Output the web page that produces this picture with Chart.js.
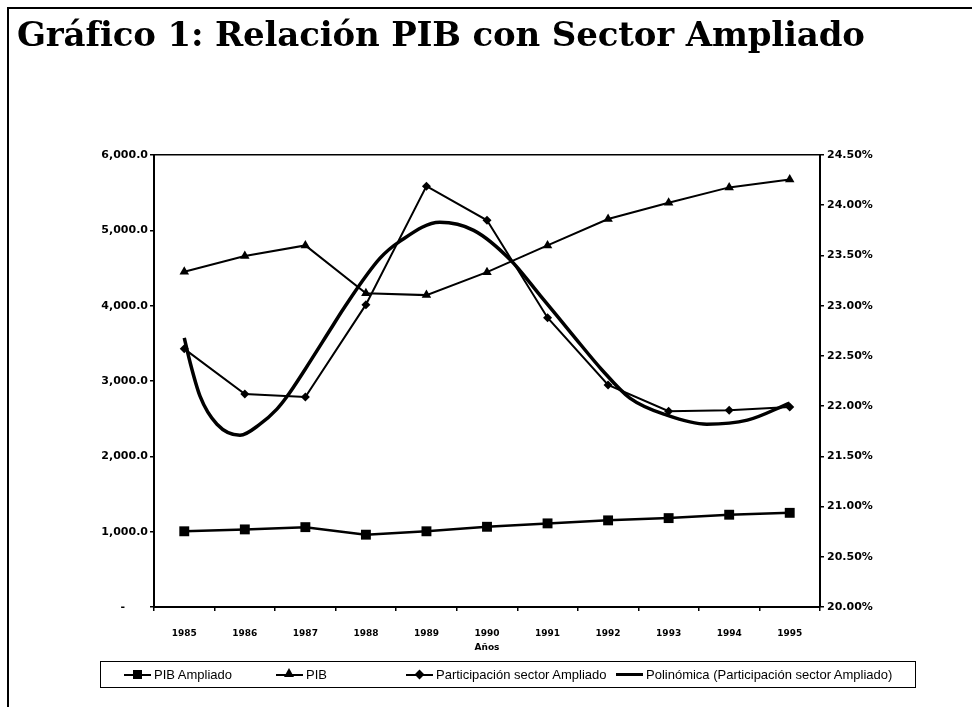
<!DOCTYPE html>
<html>
<head>
<meta charset="utf-8">
<script src="https://cdn.jsdelivr.net/npm/chart.js@4.4.0/dist/chart.umd.min.js"></script>
<style>
body { margin: 0; background: #fff; }
#page { position: relative; width: 972px; height: 707px; overflow: hidden; background: #fff; }
#frame { position: absolute; left: 7px; top: 7px; width: 980px; height: 720px; border-left: 2px solid #000; border-top: 2px solid #000; }
#title { position: absolute; left: 17px; top: 14px; font: bold 34px "DejaVu Serif"; color: #000; white-space: nowrap; }
#chart { position: absolute; left: 0; top: 0; }
#legend { position: absolute; left: 100px; top: 661px; width: 814px; height: 25px; border: 1px solid #000; font: 13px "Liberation Sans"; color: #000; }
.item { position: absolute; top: 0; height: 25px; line-height: 25px; white-space: nowrap; }
.mk { position: absolute; top: 12px; width: 27px; height: 2px; background: #000; }
.mk.thick { top: 11px; height: 3px; }
.sq, .tri, .dia { position: absolute; }
.sq { left: 9px; top: -4px; width: 9px; height: 9px; background: #000; }
.tri { left: 8px; top: -6px; width: 0; height: 0; border-left: 5px solid transparent; border-right: 5px solid transparent; border-bottom: 9px solid #000; }
.dia { left: 10px; top: -3px; width: 7px; height: 7px; background: #000; transform: rotate(45deg); }
.txt { position: absolute; left: 30px; top: 0; }
</style>
</head>
<body>
<div id="page">
  <div id="frame"></div>
  <canvas id="chart" width="972" height="707"></canvas>
  <div id="title">Gráfico 1: Relación PIB con Sector Ampliado</div>
  <div id="legend">
    <div class="item" style="left:23px"><div class="mk"><div class="sq"></div></div><span class="txt">PIB Ampliado</span></div>
    <div class="item" style="left:175px"><div class="mk"><div class="tri"></div></div><span class="txt">PIB</span></div>
    <div class="item" style="left:305px"><div class="mk"><div class="dia"></div></div><span class="txt">Participación sector Ampliado</span></div>
    <div class="item" style="left:515px"><div class="mk thick"></div><span class="txt">Polinómica (Participación sector Ampliado)</span></div>
  </div>
</div>
<script>
const years = ['1985', '1986', '1987', '1988', '1989', '1990', '1991', '1992', '1993', '1994', '1995']
const pibAmpliado = [1005, 1030, 1060, 960, 1005, 1065, 1110, 1150, 1180, 1225, 1250]
const pib = [4450, 4660, 4800, 4165, 4140, 4445, 4800, 5150, 5365, 5570, 5675]
const participacion = [22.57, 22.12, 22.09, 23.01, 24.19, 23.85, 22.88, 22.21, 21.95, 21.96, 21.99]

// trend curve at several positions along the years
const trendYears = [1985, 1985.09, 1985.26, 1985.54, 1985.92, 1986.25, 1986.53, 1986.69, 1987, 1987.41, 1987.63,
    1988.23, 1988.56, 1989.22, 1989.78, 1990.38, 1990.88, 1991.4, 1991.9, 1992.36, 1992.97, 1993.63, 1994.3, 1995]
const trendValues = [22.68, 22.45, 22.10, 21.82, 21.71, 21.82, 21.97, 22.09, 22.37, 22.76, 22.97,
    23.47, 23.64, 23.83, 23.75, 23.46, 23.10, 22.72, 22.36, 22.08, 21.91, 21.82, 21.86, 22.03]

const leftMin = 0, leftMax = 6000, leftStep = 1000
const rightMin = 20, rightMax = 24.5, rightStep = 0.5

// stretch the title to the width it has in the picture
const title = document.getElementById('title')
const w = title.getBoundingClientRect().width
title.style.letterSpacing = ((845 - w) / title.textContent.length) + 'px'

const tickFont = { family: 'DejaVu Sans', weight: 'bold', size: 11 }

const ctx = document.getElementById('chart')

new Chart(ctx, {
    type: 'line',
    data: {
        labels: years,
        datasets: [{
            label: 'PIB Ampliado',
            data: pibAmpliado,
            yAxisID: 'y',
            borderColor: '#000',
            backgroundColor: '#000',
            borderWidth: 2.5,
            pointStyle: 'rect',
            pointRadius: 7,
            pointBorderWidth: 0
        }, {
            label: 'PIB',
            data: pib,
            yAxisID: 'y',
            borderColor: '#000',
            backgroundColor: '#000',
            borderWidth: 2,
            pointStyle: 'triangle',
            pointRadius: 5.5,
            pointBorderWidth: 0
        }, {
            label: 'Participación sector Ampliado',
            data: participacion,
            yAxisID: 'y1',
            borderColor: '#000',
            backgroundColor: '#000',
            borderWidth: 2,
            pointStyle: 'rectRot',
            pointRadius: 4.5,
            pointBorderWidth: 0
        }, {
            label: 'Polinómica (Participación sector Ampliado)',
            data: trendYears.map((x, i) => ({ x: x, y: trendValues[i] })),
            xAxisID: 'x2',
            yAxisID: 'y1',
            borderColor: '#000',
            borderWidth: 3.5,
            pointRadius: 0,
            cubicInterpolationMode: 'monotone'
        }]
    },
    options: {
        responsive: false,
        animation: false,
        layout: { padding: { left: 90, right: 82, top: 155, bottom: 50 } },
        plugins: {
            legend: { display: false },
            tooltip: { enabled: false }
        },
        scales: {
            x: {
                type: 'category',
                offset: true,
                grid: { offset: true, drawOnChartArea: false, color: '#000', lineWidth: 1.5, tickLength: 4 },
                border: { color: '#000', width: 2 },
                ticks: { color: '#000', font: { family: 'DejaVu Sans', weight: 'bold', size: 9 }, padding: 17, maxRotation: 0 },
                title: { display: true, text: 'Años', color: '#000', font: { family: 'DejaVu Sans', weight: 'bold', size: 9 }, padding: { top: 5 } },
                afterFit: (s) => { s.height = 50 }
            },
            x2: {
                type: 'linear',
                position: 'top',
                min: 1984.5,
                max: 1995.5,
                ticks: { display: false },
                grid: { display: false },
                border: { color: '#000', width: 1.5 },
                afterFit: (s) => { s.height = 0 }
            },
            y: {
                position: 'left',
                min: leftMin,
                max: leftMax,
                ticks: {
                    stepSize: leftStep,
                    color: '#000',
                    font: tickFont,
                    padding: 2,
                    callback: (v) => v === 0 ? '-\u2007\u2007\u2007' : v.toLocaleString('en-US', { minimumFractionDigits: 1 })
                },
                grid: { drawOnChartArea: false, color: '#000', lineWidth: 1.5, tickLength: 4 },
                border: { color: '#000', width: 2 },
                afterFit: (s) => { s.width = 64 }
            },
            y1: {
                position: 'right',
                min: rightMin,
                max: rightMax,
                ticks: {
                    stepSize: rightStep,
                    color: '#000',
                    font: tickFont,
                    padding: 3,
                    callback: (v) => v.toFixed(2) + '%'
                },
                grid: { drawOnChartArea: false, color: '#000', lineWidth: 1.5, tickLength: 4 },
                border: { color: '#000', width: 2 },
                afterFit: (s) => { s.width = 70 }
            }
        }
    }
});
</script>
</body>
</html>
